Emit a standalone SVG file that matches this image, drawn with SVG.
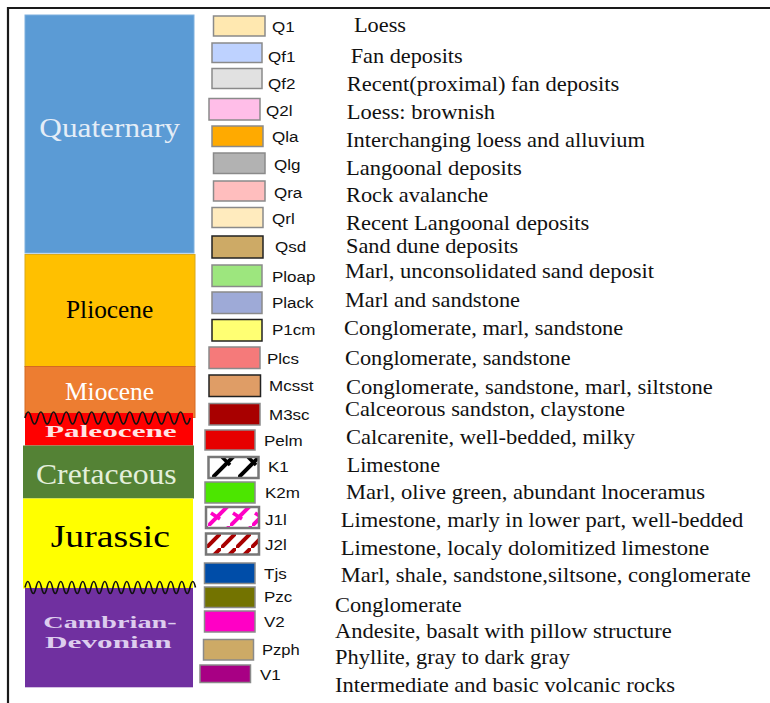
<svg xmlns="http://www.w3.org/2000/svg" width="770" height="703" viewBox="0 0 770 703">
<defs>
<style>
.age{font-family:"Liberation Serif","Times New Roman",serif}
.code{font-family:"Liberation Sans",Arial,sans-serif;font-size:15.5px;fill:#111}
.desc{font-family:"Liberation Serif","Times New Roman",serif;font-size:21px;fill:#111}
.sw{stroke:#8a8a8a;stroke-width:1.5}
.swd{stroke:#222;stroke-width:1.5}
.swh{stroke:#777;stroke-width:2.5}
.wave{fill:none;stroke:#111;stroke-width:1.6}
</style>
<pattern id="hK1" patternUnits="userSpaceOnUse" width="26" height="26" x="212" y="452">
<rect width="26" height="26" fill="#fff"/>
<path d="M-3,29 L29,-3" stroke="#000" stroke-width="4"/>
<path d="M10,5 L18,13" stroke="#000" stroke-width="3.5"/>
</pattern>
<pattern id="hJ1" patternUnits="userSpaceOnUse" width="22" height="22" x="208" y="504">
<rect width="22" height="22" fill="#fff"/>
<path d="M-3,25 L25,-3" stroke="#ff00c5" stroke-width="4"/>
<path d="M3,9 L12,15" stroke="#ff00c5" stroke-width="3.5"/>
</pattern>
<pattern id="hJ2" patternUnits="userSpaceOnUse" width="15" height="15" x="206" y="533">
<rect width="15" height="15" fill="#fff"/>
<path d="M-2,17 L17,-2" stroke="#a80000" stroke-width="4"/>
</pattern>
</defs>
<rect width="770" height="703" fill="#fff"/>
<!-- frame -->
<path d="M8,703 L8,8 L770,8" fill="none" stroke="#1a1a1a" stroke-width="2.2"/>

<!-- age column -->
<g id="quaternary"><rect x="25" y="15" width="169" height="238" fill="#5b9bd5" stroke="#7fb0de" stroke-width="1"/>
<text class="age" x="39.3" y="137.3" font-size="27" fill="#e4edf7" textLength="140.7" lengthAdjust="spacingAndGlyphs">Quaternary</text></g>
<g id="pliocene"><rect x="25" y="254.5" width="170" height="112" fill="#ffc000" stroke="#d9a81a" stroke-width="1"/>
<text class="age" x="66" y="318.3" font-size="25" fill="#000" textLength="87.3" lengthAdjust="spacingAndGlyphs">Pliocene</text></g>
<g id="miocene"><rect x="25" y="366.5" width="170" height="51" fill="#ed7d31" stroke="#d46a22" stroke-width="1"/>
<text class="age" x="65" y="400" font-size="26" fill="#fff" textLength="89" lengthAdjust="spacingAndGlyphs">Miocene</text></g>
<g id="paleocene"><rect x="25" y="413" width="168" height="32.5" fill="#ff0000"/>
<text class="age" x="45" y="436.7" font-size="17.5" font-weight="bold" fill="#ffe4e4" textLength="131.7" lengthAdjust="spacingAndGlyphs">Paleocene</text></g>
<g id="cretaceous"><rect x="23" y="445.5" width="171" height="53" fill="#548235"/>
<text class="age" x="36" y="484" font-size="30" fill="#e4efdc" textLength="140.7" lengthAdjust="spacingAndGlyphs">Cretaceous</text></g>
<g id="jurassic"><rect x="23" y="498.5" width="170" height="90" fill="#ffff00"/>
<text class="age" x="50.7" y="547.3" font-size="32" fill="#000" textLength="119.3" lengthAdjust="spacingAndGlyphs">Jurassic</text></g>
<g id="cambrian-devonian"><rect x="25" y="588" width="168" height="99.3" fill="#7030a0"/>
<text class="age" x="43.3" y="628.3" font-size="17" font-weight="bold" fill="#ddcdee" textLength="133.3" lengthAdjust="spacingAndGlyphs">Cambrian-</text>
<text class="age" x="45" y="648.3" font-size="17" font-weight="bold" fill="#ddcdee" textLength="126.7" lengthAdjust="spacingAndGlyphs">Devonian</text></g>

<g id="unconformities">
<path class="wave" d="M25,418 q3.175,-12 6.35,0 t6.35,0 t6.35,0 t6.35,0 t6.35,0 t6.35,0 t6.35,0 t6.35,0 t6.35,0 t6.35,0 t6.35,0 t6.35,0 t6.35,0 t6.35,0 t6.35,0 t6.35,0 t6.35,0 t6.35,0 t6.35,0 t6.35,0 t6.35,0 t6.35,0 t6.35,0 t6.35,0 t6.35,0 t6.35,0"/>
<path class="wave" d="M25,587.5 q2.75,-12 5.5,0 t5.5,0 t5.5,0 t5.5,0 t5.5,0 t5.5,0 t5.5,0 t5.5,0 t5.5,0 t5.5,0 t5.5,0 t5.5,0 t5.5,0 t5.5,0 t5.5,0 t5.5,0 t5.5,0 t5.5,0 t5.5,0 t5.5,0 t5.5,0 t5.5,0 t5.5,0 t5.5,0 t5.5,0 t5.5,0 t5.5,0 t5.5,0 t5.5,0 t5.5,0 t5.5,0"/>
</g>

<!-- legend -->
<g id="Q1"><rect class="sw" x="213.5" y="16" width="51.5" height="20" fill="#ffe8b0"/><text class="code" x="272" y="31.5" textLength="22.7" lengthAdjust="spacingAndGlyphs">Q1</text><text class="desc" x="354" y="32" textLength="52" lengthAdjust="spacingAndGlyphs">Loess</text></g>
<g id="Qf1"><rect class="sw" x="212" y="43" width="50" height="19.5" fill="#bed2ff"/><text class="code" x="268" y="62" textLength="27.4" lengthAdjust="spacingAndGlyphs">Qf1</text><text class="desc" x="350.7" y="62.5" textLength="112" lengthAdjust="spacingAndGlyphs">Fan deposits</text></g>
<g id="Qf2"><rect class="sw" x="212" y="68.5" width="50" height="20" fill="#e1e1e1"/><text class="code" x="268" y="88.5" textLength="27.4" lengthAdjust="spacingAndGlyphs">Qf2</text><text class="desc" x="346.7" y="90.5" textLength="272.6" lengthAdjust="spacingAndGlyphs">Recent(proximal) fan deposits</text></g>
<g id="Q2l"><rect class="sw" x="209" y="98.5" width="51" height="21.5" fill="#ffbee8"/><text class="code" x="266" y="115.5" textLength="26.5" lengthAdjust="spacingAndGlyphs">Q2l</text><text class="desc" x="346.7" y="119.3" textLength="148.3" lengthAdjust="spacingAndGlyphs">Loess: brownish</text></g>
<g id="Qla"><rect class="sw" x="212" y="126" width="51" height="20.5" fill="#ffaa00"/><text class="code" x="272" y="142" textLength="26.5" lengthAdjust="spacingAndGlyphs">Qla</text><text class="desc" x="346" y="146.7" textLength="299" lengthAdjust="spacingAndGlyphs">Interchanging loess and alluvium</text></g>
<g id="Qlg"><rect class="sw" x="213.5" y="153" width="51.5" height="20.5" fill="#b2b2b2"/><text class="code" x="274" y="169.5" textLength="26.5" lengthAdjust="spacingAndGlyphs">Qlg</text><text class="desc" x="346" y="175" textLength="175.7" lengthAdjust="spacingAndGlyphs">Langoonal deposits</text></g>
<g id="Qra"><rect class="sw" x="213.5" y="181" width="51.5" height="20" fill="#ffbebe"/><text class="code" x="274" y="198" textLength="28.3" lengthAdjust="spacingAndGlyphs">Qra</text><text class="desc" x="346" y="201.7" textLength="142.3" lengthAdjust="spacingAndGlyphs">Rock avalanche</text></g>
<g id="Qrl"><rect class="sw" x="212" y="207.5" width="51" height="20" fill="#ffebbe"/><text class="code" x="272" y="223.5" textLength="22.7" lengthAdjust="spacingAndGlyphs">Qrl</text><text class="desc" x="346" y="230" textLength="243.3" lengthAdjust="spacingAndGlyphs">Recent Langoonal deposits</text></g>
<g id="Qsd"><rect class="swd" x="212" y="236" width="51" height="22" fill="#cdaa66"/><text class="code" x="275" y="252" textLength="31.2" lengthAdjust="spacingAndGlyphs">Qsd</text><text class="desc" x="346" y="252.7" textLength="172.3" lengthAdjust="spacingAndGlyphs">Sand dune deposits</text></g>
<g id="Ploap"><rect class="sw" x="212" y="265" width="50" height="21.5" fill="#9de67e"/><text class="code" x="272" y="281.5" textLength="43.5" lengthAdjust="spacingAndGlyphs">Ploap</text><text class="desc" x="345" y="278.3" textLength="309" lengthAdjust="spacingAndGlyphs">Marl, unconsolidated sand deposit</text></g>
<g id="Plack"><rect class="sw" x="212" y="292" width="50" height="21.5" fill="#9eaad7"/><text class="code" x="272" y="308" textLength="41.6" lengthAdjust="spacingAndGlyphs">Plack</text><text class="desc" x="345" y="306.7" textLength="175" lengthAdjust="spacingAndGlyphs">Marl and sandstone</text></g>
<g id="P1cm"><rect class="swd" x="212" y="319.5" width="50" height="21.5" fill="#ffff73"/><text class="code" x="272" y="335" textLength="43.5" lengthAdjust="spacingAndGlyphs">P1cm</text><text class="desc" x="344" y="335" textLength="279.3" lengthAdjust="spacingAndGlyphs">Conglomerate, marl, sandstone</text></g>
<g id="Plcs"><rect class="sw" x="209" y="347" width="51" height="21.5" fill="#f57a7a"/><text class="code" x="267" y="363.5" textLength="32.1" lengthAdjust="spacingAndGlyphs">Plcs</text><text class="desc" x="345" y="365" textLength="225.7" lengthAdjust="spacingAndGlyphs">Conglomerate, sandstone</text></g>
<g id="Mcsst"><rect class="swd" x="209" y="375" width="51.5" height="21.5" fill="#df9d66"/><text class="code" x="269" y="391" textLength="44.4" lengthAdjust="spacingAndGlyphs">Mcsst</text><text class="desc" x="346" y="394" textLength="366.7" lengthAdjust="spacingAndGlyphs">Conglomerate, sandstone, marl, siltstone</text></g>
<g id="M3sc"><rect class="sw" x="209" y="403.5" width="51" height="21.5" fill="#a80000"/><text class="code" x="269" y="419.5" textLength="40.6" lengthAdjust="spacingAndGlyphs">M3sc</text><text class="desc" x="345" y="416" textLength="280" lengthAdjust="spacingAndGlyphs">Calceorous sandston, claystone</text></g>
<g id="Pelm"><rect class="sw" x="205" y="430" width="50" height="20" fill="#e60000"/><text class="code" x="264" y="445.5" textLength="38.7" lengthAdjust="spacingAndGlyphs">Pelm</text><text class="desc" x="346" y="444" textLength="289" lengthAdjust="spacingAndGlyphs">Calcarenite, well-bedded, milky</text></g>
<g id="K1"><rect class="swh" x="208.5" y="457" width="50" height="21" fill="url(#hK1)"/><text class="code" x="268" y="472" textLength="20.8" lengthAdjust="spacingAndGlyphs">K1</text><text class="desc" x="346.7" y="471.5" textLength="93.3" lengthAdjust="spacingAndGlyphs">Limestone</text></g>
<g id="K2m"><rect class="sw" x="205" y="482" width="50" height="21" fill="#4ce600"/><text class="code" x="265" y="497.5" textLength="35" lengthAdjust="spacingAndGlyphs">K2m</text><text class="desc" x="346" y="499" textLength="359" lengthAdjust="spacingAndGlyphs">Marl, olive green, abundant lnoceramus</text></g>
<g id="J1l"><rect class="swh" x="206" y="507" width="53" height="21" fill="url(#hJ1)"/><text class="code" x="265" y="524.5" textLength="21.7" lengthAdjust="spacingAndGlyphs">J1l</text><text class="desc" x="340.7" y="526.7" textLength="402.6" lengthAdjust="spacingAndGlyphs">Limestone, marly in lower part, well-bedded</text></g>
<g id="J2l"><rect class="swh" x="206" y="533.5" width="53" height="21" fill="url(#hJ2)"/><text class="code" x="265" y="550" textLength="21.7" lengthAdjust="spacingAndGlyphs">J2l</text><text class="desc" x="340.7" y="555" textLength="368.6" lengthAdjust="spacingAndGlyphs">Limestone, localy dolomitized limestone</text></g>
<g id="Tjs"><rect class="sw" x="204.5" y="563" width="50.5" height="20.5" fill="#004da8"/><text class="code" x="264" y="578.5" textLength="22.7" lengthAdjust="spacingAndGlyphs">Tjs</text><text class="desc" x="340.7" y="581.7" textLength="410" lengthAdjust="spacingAndGlyphs">Marl, shale, sandstone,siltsone, conglomerate</text></g>
<g id="Pzc"><rect class="sw" x="204.5" y="587" width="50.5" height="20.5" fill="#737300"/><text class="code" x="264" y="602" textLength="28.3" lengthAdjust="spacingAndGlyphs">Pzc</text><text class="desc" x="335" y="611.7" textLength="126.7" lengthAdjust="spacingAndGlyphs">Conglomerate</text></g>
<g id="V2"><rect class="sw" x="204.5" y="611" width="50.5" height="21" fill="#ff00c5"/><text class="code" x="264" y="626.5" textLength="20.8" lengthAdjust="spacingAndGlyphs">V2</text><text class="desc" x="335" y="638.3" textLength="336.7" lengthAdjust="spacingAndGlyphs">Andesite, basalt with pillow structure</text></g>
<g id="Pzph"><rect class="sw" x="203.5" y="639.5" width="50" height="20.5" fill="#cdaa66"/><text class="code" x="262" y="654.5" textLength="37.8" lengthAdjust="spacingAndGlyphs">Pzph</text><text class="desc" x="335" y="664" textLength="235" lengthAdjust="spacingAndGlyphs">Phyllite, gray to dark gray</text></g>
<g id="V1"><rect class="sw" x="200" y="665" width="50.5" height="17.5" fill="#a80084"/><text class="code" x="260" y="680" textLength="20.8" lengthAdjust="spacingAndGlyphs">V1</text><text class="desc" x="335" y="691.7" textLength="340" lengthAdjust="spacingAndGlyphs">Intermediate and basic volcanic rocks</text></g>
</svg>
